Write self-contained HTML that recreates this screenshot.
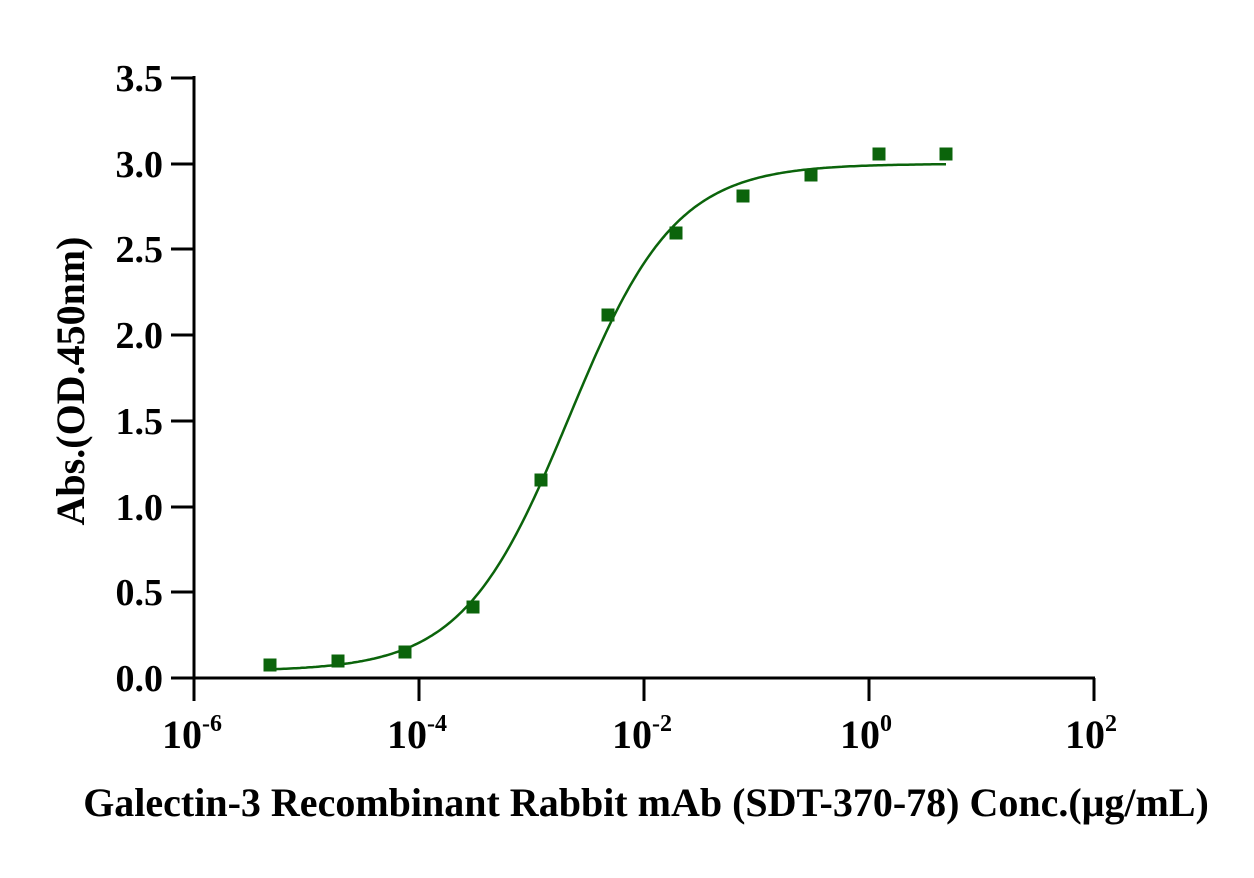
<!DOCTYPE html>
<html><head><meta charset="utf-8"><style>
body{margin:0;background:#fff;}
svg text{font-family:"Liberation Serif",serif;font-weight:bold;fill:#000;}
</style></head><body>
<svg id="s" width="1254" height="873" xmlns="http://www.w3.org/2000/svg">
<g stroke="#000" stroke-width="3" fill="none">
<line x1="194" y1="76" x2="194" y2="679"/>
<line x1="192" y1="678" x2="1095" y2="678"/>
<line x1="171" y1="78" x2="194" y2="78"/>
<line x1="171" y1="164" x2="194" y2="164"/>
<line x1="171" y1="249" x2="194" y2="249"/>
<line x1="171" y1="335" x2="194" y2="335"/>
<line x1="171" y1="421" x2="194" y2="421"/>
<line x1="171" y1="507" x2="194" y2="507"/>
<line x1="171" y1="592" x2="194" y2="592"/>
<line x1="171" y1="678" x2="194" y2="678"/>
<line x1="194" y1="678" x2="194" y2="701"/>
<line x1="419" y1="678" x2="419" y2="701"/>
<line x1="644" y1="678" x2="644" y2="701"/>
<line x1="869" y1="678" x2="869" y2="701"/>
<line x1="1094" y1="678" x2="1094" y2="701"/>
</g>
<g font-size="38" text-anchor="end">
<text x="163" y="91">3.5</text>
<text x="163" y="177">3.0</text>
<text x="163" y="262">2.5</text>
<text x="163" y="348">2.0</text>
<text x="163" y="434">1.5</text>
<text x="163" y="520">1.0</text>
<text x="163" y="605">0.5</text>
<text x="163" y="691">0.0</text>
</g>
<g font-size="40">
<text x="162" y="748">10<tspan font-size="24" dy="-17">-6</tspan></text>
<text x="387" y="748">10<tspan font-size="24" dy="-17">-4</tspan></text>
<text x="612" y="748">10<tspan font-size="24" dy="-17">-2</tspan></text>
<text x="840" y="748">10<tspan font-size="24" dy="-17">0</tspan></text>
<text x="1065" y="748">10<tspan font-size="24" dy="-17">2</tspan></text>
</g>
<text x="646" y="816" font-size="40" text-anchor="middle">Galectin-3 Recombinant Rabbit mAb (SDT-370-78) Conc.(μg/mL)</text>
<text transform="translate(84,381) rotate(-90)" font-size="40" text-anchor="middle">Abs.(OD.450nm)</text>
<path id="c" fill="none" stroke="#0b640b" stroke-width="2.5"/>
<g id="p" fill="#0b640b"></g>
</svg>
<script>
var d="";
for(var x=270;x<=946;x+=2){
 var f=1/(1+Math.pow(10,-(x-569)/112.5*0.92));
 var v=0.04+2.96*f;
 var y=678-v*171.4;
 d+=(x==270?"M":"L")+x+" "+y.toFixed(1);
}
document.getElementById("c").setAttribute("d",d);
var pts=[[270,665],[338,661],[405,652],[473,607],[541,480],[608,315],[676,233],[743,196],[811,175],[879,154],[946,154]];
var g=document.getElementById("p"),h="";
pts.forEach(function(p){h+='<rect x="'+(p[0]-6.5)+'" y="'+(p[1]-6.5)+'" width="13" height="13"/>';});
g.innerHTML=h;
</script>
</body></html>
